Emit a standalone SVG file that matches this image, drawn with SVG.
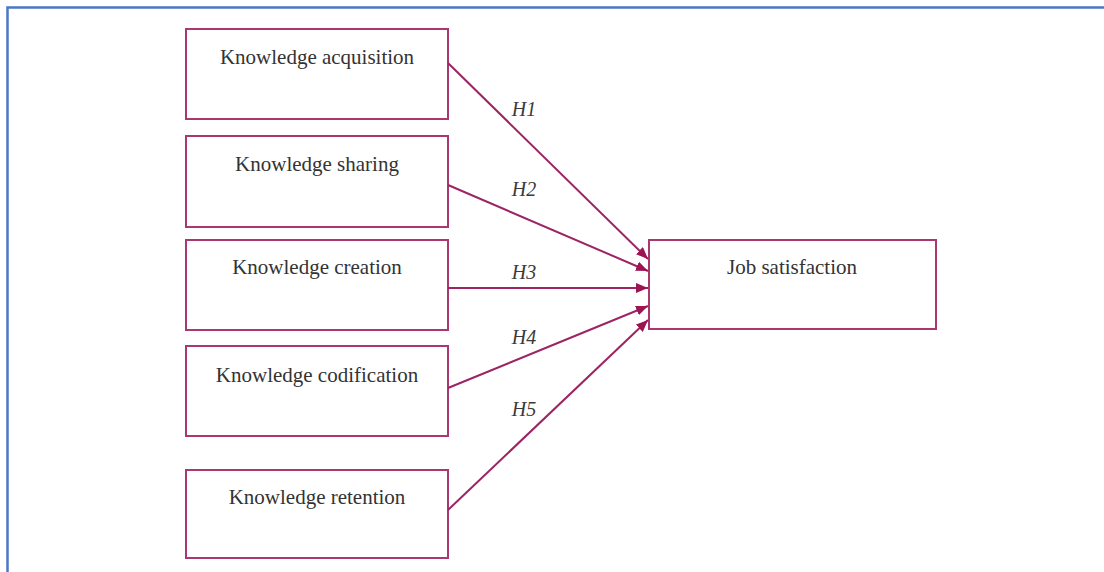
<svg xmlns="http://www.w3.org/2000/svg" width="1104" height="572" viewBox="0 0 1104 572">
  <style>
    .box { fill: #ffffff; stroke: #a8386f; stroke-width: 2; }
    .lbl { font-family: "Liberation Serif", "Times New Roman", serif; font-size: 21px; fill: #333333; text-anchor: middle; }
    .hyp { font-family: "Liberation Serif", "Times New Roman", serif; font-size: 20px; font-style: italic; fill: #3a3a3a; text-anchor: middle; }
    .edge { stroke: #9c2463; stroke-width: 2; fill: none; marker-end: url(#head); }
  </style>
  <defs>
    <marker id="head" viewBox="0 0 12 10" refX="12" refY="5" markerWidth="12" markerHeight="10" markerUnits="userSpaceOnUse" orient="auto">
      <path d="M0,0 L12,5 L0,10 Z" fill="#9c1452"/>
    </marker>
  </defs>

  <rect x="0" y="0" width="1104" height="572" fill="#ffffff"/>
  <!-- frame -->
  <path d="M7.5,572 L7.5,7.5 L1104,7.5" fill="none" stroke="#4a78c8" stroke-width="2.5"/>

  <g id="acquisition">
    <rect class="box" x="186" y="29" width="262" height="90"/>
    <text class="lbl" x="317" y="64">Knowledge acquisition</text>
  </g>
  <g id="sharing">
    <rect class="box" x="186" y="136" width="262" height="91"/>
    <text class="lbl" x="317" y="171">Knowledge sharing</text>
  </g>
  <g id="creation">
    <rect class="box" x="186" y="240" width="262" height="90"/>
    <text class="lbl" x="317" y="274">Knowledge creation</text>
  </g>
  <g id="codification">
    <rect class="box" x="186" y="346" width="262" height="90"/>
    <text class="lbl" x="317" y="382">Knowledge codification</text>
  </g>
  <g id="retention">
    <rect class="box" x="186" y="470" width="262" height="88"/>
    <text class="lbl" x="317" y="504">Knowledge retention</text>
  </g>
  <g id="satisfaction">
    <rect class="box" x="649" y="240" width="287" height="89"/>
    <text class="lbl" x="792" y="274">Job satisfaction</text>
  </g>

  <g id="connectors">
    <line class="edge" x1="448" y1="63" x2="648" y2="259"/>
    <line class="edge" x1="448" y1="185" x2="648" y2="271"/>
    <line class="edge" x1="448" y1="288" x2="648" y2="288"/>
    <line class="edge" x1="448" y1="388" x2="648" y2="306"/>
    <line class="edge" x1="448" y1="510" x2="648" y2="320"/>
    <text class="hyp" x="524" y="116">H1</text>
    <text class="hyp" x="524" y="196">H2</text>
    <text class="hyp" x="524" y="279">H3</text>
    <text class="hyp" x="524" y="344">H4</text>
    <text class="hyp" x="524" y="416">H5</text>
  </g>
</svg>
